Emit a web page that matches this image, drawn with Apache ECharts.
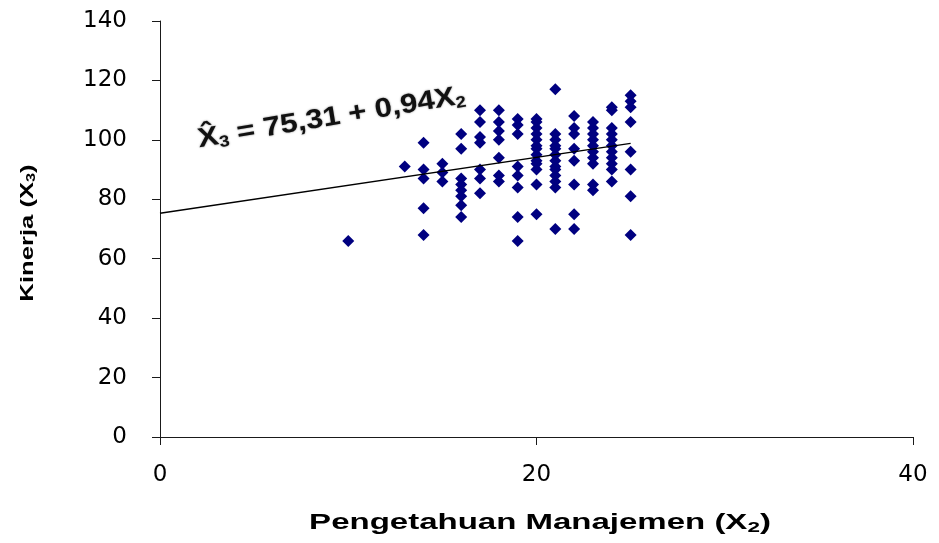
<!DOCTYPE html>
<html><head><meta charset="utf-8">
<script src="https://cdn.jsdelivr.net/npm/echarts@6/dist/echarts.min.js"></script>
<style>html,body{margin:0;padding:0;background:#fff}#c{width:939px;height:543px}</style>
</head><body><div id="c"></div>
<script>
// X2 (Pengetahuan Manajemen) columns and the X3 (Kinerja) values found at each
const columnX = [10, 13, 14, 15, 16, 17, 18, 19, 20, 21, 22, 23, 24, 25];
const kinerja10 = [66];
const kinerja13 = [91];
const kinerja14 = [99, 90, 87, 77, 68];
const kinerja15 = [92, 89, 86];
const kinerja16 = [102, 97, 87, 85, 83, 81, 78, 74];
const kinerja17 = [110, 106, 101, 99, 90, 87, 82];
const kinerja18 = [110, 106, 103, 100, 94, 88, 86];
const kinerja19 = [107, 105, 102, 91, 88, 84, 74, 66];
const kinerja20 = [107, 106, 104, 102, 100, 98, 97, 95, 93, 92, 90, 85, 75];
const kinerja21 = [117, 102, 100, 98, 97, 95, 93, 91, 90, 88, 86, 84, 70];
const kinerja22 = [108, 104, 102, 97, 93, 85, 75, 70];
const kinerja23 = [106, 104, 102, 100, 98, 96, 94, 92, 85, 83];
const kinerja24 = [111, 110, 104, 102, 100, 98, 96, 94, 92, 90, 86];
const kinerja25 = [115, 113, 111, 106, 96, 90, 81, 68];
const columnY = [kinerja10, kinerja13, kinerja14, kinerja15, kinerja16, kinerja17, kinerja18,
  kinerja19, kinerja20, kinerja21, kinerja22, kinerja23, kinerja24, kinerja25];

// regression line X3 = 75.31 + 0.94 X2, drawn over X2 = 0..25
const intercept = 75.31;
const slope = 0.94;
const lineX = [0, 25];

const xTickValues = [0, 20, 40];
const yTickValues = [0, 20, 40, 60, 80, 100, 120, 140];

const points = [];
columnX.forEach((x, i) => columnY[i].forEach(y => points.push([x, y])));
const linePts = lineX.map(x => [x, intercept + slope * x]);

const chart = echarts.init(document.getElementById('c'));
const axisCol = '#1a1a1a';
chart.setOption({
  animation: false,
  backgroundColor: '#fff',
  grid: { left: 160, right: 26, top: 21, bottom: 106 },
  xAxis: {
    type: 'value', min: xTickValues[0], max: xTickValues[xTickValues.length - 1], interval: 20,
    axisLine: { lineStyle: { color: axisCol, width: 1 } },
    axisTick: { show: true, length: 8, lineStyle: { color: axisCol } },
    splitLine: { show: false },
    axisLabel: { show: true, fontFamily: 'DejaVu Sans', fontSize: 23, color: '#000', margin: 27 }
  },
  yAxis: {
    type: 'value', min: yTickValues[0], max: yTickValues[yTickValues.length - 1], interval: 20,
    axisLine: { show: true, lineStyle: { color: axisCol, width: 1 } },
    axisTick: { show: true, length: 8, lineStyle: { color: axisCol } },
    splitLine: { show: false },
    axisLabel: { show: true, fontFamily: 'DejaVu Sans', fontSize: 23, color: '#000', margin: 33 }
  },
  series: [
    {
      type: 'scatter', data: points, symbol: 'diamond', symbolSize: 12,
      itemStyle: { color: '#000080', opacity: 1 }, z: 2
    },
    {
      type: 'line', data: linePts, symbol: 'none', z: 3,
      lineStyle: { color: '#000', width: 1.4 }
    }
  ],
  graphic: [
    {
      type: 'text', x: 540, y: 523, scaleX: 1.5,
      style: {
        text: '{b|Pengetahuan Manajemen (X}{s|2}{b|)}',
        align: 'center', verticalAlign: 'middle',
        rich: {
          b: { fontFamily: 'Liberation Sans', fontWeight: 'bold', fontSize: 22, fill: '#000', lineHeight: 26 },
          s: { fontFamily: 'Liberation Sans', fontWeight: 'bold', fontSize: 15, fill: '#000', lineHeight: 26, padding: [10, 0, 0, 0] }
        }
      }
    },
    {
      type: 'text', x: 28, y: 233, rotation: Math.PI / 2, scaleX: 1.35,
      style: {
        text: '{b|Kinerja (X}{s|3}{b|)}',
        align: 'center', verticalAlign: 'middle',
        rich: {
          b: { fontFamily: 'Liberation Sans', fontWeight: 'bold', fontSize: 19, fill: '#000', lineHeight: 24 },
          s: { fontFamily: 'Liberation Sans', fontWeight: 'bold', fontSize: 12, fill: '#000', lineHeight: 24, padding: [8, 0, 0, 0] }
        }
      }
    },
    {
      type: 'text', x: 198, y: 140, rotation: 0.165, scaleX: 1.15,
      style: {
        text: '{b|X\u0302}{s|3}{b| = 75,31 + 0,94X}{s|2}',
        align: 'left', verticalAlign: 'middle',
        textShadowColor: 'rgba(0,0,0,0.5)', textShadowBlur: 2,
        rich: {
          b: { fontFamily: 'Liberation Sans', fontWeight: 'bold', fontSize: 27, fill: '#111', lineHeight: 32 },
          s: { fontFamily: 'Liberation Sans', fontWeight: 'bold', fontSize: 16, fill: '#111', lineHeight: 32, padding: [13, 0, 0, 0] }
        }
      }
    }
  ]
});
</script>
</body></html>
